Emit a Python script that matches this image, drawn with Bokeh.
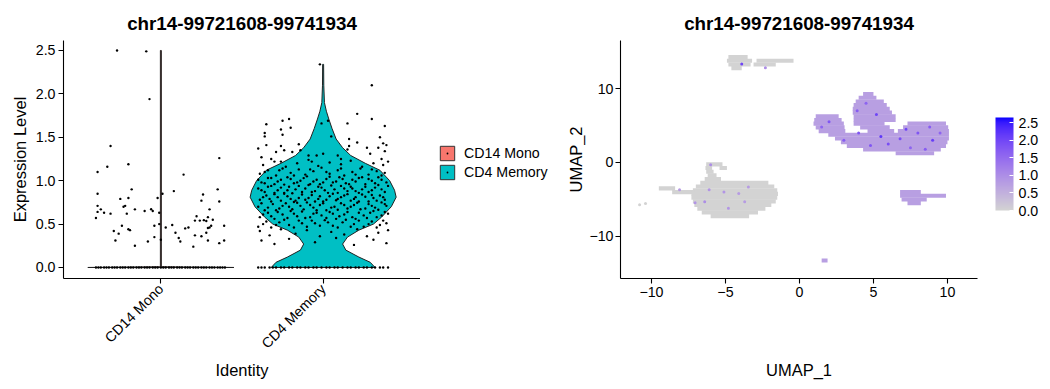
import numpy as np
from bokeh.plotting import figure
from bokeh.layouts import row
from bokeh.models import (Range1d, FixedTicker, Legend, LegendItem, ColorBar,
                          LinearColorMapper, ColumnDataSource, PrintfTickFormatter)
from bokeh.transform import transform
from bokeh.embed import file_html
from bokeh.resources import INLINE

# ---------------- data ----------------
TITLE = "chr14-99721608-99741934"
identities = ["CD14 Mono", "CD4 Memory"]
ident_pos = [1, 2]
ident_colors = ["#F8766D", "#00BFC4"]

# violin outlines: expression level and half-width (category units)
cd14_violin_y = [0.0, 0.008, 2.5]
cd14_violin_half = [0.45, 0.003, 0.003]
cd4_violin_y = [0.0, 0.06, 0.12, 0.2, 0.27, 0.35, 0.43, 0.5, 0.58, 0.7, 0.81, 0.89,
                1.0, 1.12, 1.2, 1.29, 1.38, 1.48, 1.6, 1.71, 1.8, 1.9, 2.1, 2.34]
cd4_violin_half = [0.32, 0.29, 0.22, 0.14, 0.12, 0.15, 0.22, 0.31, 0.36, 0.42, 0.45, 0.44,
                   0.41, 0.35, 0.26, 0.17, 0.12, 0.08, 0.055, 0.035, 0.02, 0.008, 0.004, 0.003]

# jittered cells (x offset from category centre, expression level)
cd14_points = [(-0.27, 2.50), (-0.09, 2.49), (-0.07, 1.94), (-0.31, 1.40), (0.36, 1.26),
    (-0.39, 1.10), (-0.33, 1.16), (-0.20, 1.19), (0.14, 1.07),
    (-0.39, 0.85), (-0.18, 0.90), (-0.25, 0.79), (-0.20, 0.80), (-0.02, 0.80), (0.01, 0.85),
    (0.08, 0.88), (0.26, 0.84), (0.35, 0.90), (0.25, 0.77), (0.36, 0.76),
    (-0.39, 0.71), (-0.37, 0.67), (-0.39, 0.64), (-0.35, 0.63), (-0.31, 0.62), (-0.23, 0.70),
    (-0.22, 0.71), (-0.16, 0.67), (-0.21, 0.62), (-0.10, 0.65), (-0.06, 0.67), (-0.05, 0.65),
    (-0.01, 0.63), (0.30, 0.67),
    (-0.40, 0.57), (0.22, 0.59), (0.21, 0.54), (0.24, 0.54), (0.265, 0.545), (0.28, 0.535),
    (0.29, 0.58), (0.32, 0.55),
    (-0.01, 0.50), (-0.04, 0.48), (0.03, 0.46), (0.07, 0.49), (-0.24, 0.48), (-0.20, 0.44),
    (-0.19, 0.43), (-0.29, 0.42), (-0.26, 0.39), (0.09, 0.40), (0.15, 0.45), (0.17, 0.46),
    (0.30, 0.46), (0.31, 0.48), (0.29, 0.455), (0.39, 0.48), (0.28, 0.40),
    (0.11, 0.34), (0.12, 0.30), (0.21, 0.37), (0.25, 0.36), (0.29, 0.31), (0.36, 0.28),
    (0.39, 0.31), (0.20, 0.24), (-0.04, 0.35), (-0.08, 0.30), (0.00, 0.32), (-0.28, 0.31),
    (-0.16, 0.25)]
cd14_zero_offsets = [-0.40, -0.385, -0.37, -0.35, -0.335, -0.32, -0.30, -0.285, -0.27, -0.25,
    -0.235, -0.22, -0.20, -0.185, -0.17, -0.15, -0.135, -0.12, -0.10, -0.085, -0.07, -0.05,
    -0.035, -0.02, 0.0, 0.015, 0.03, 0.05, 0.065, 0.08, 0.10, 0.115, 0.13, 0.15, 0.165, 0.18,
    0.20, 0.215, 0.23, 0.25, 0.265, 0.28, 0.30, 0.315, 0.33, 0.35, 0.365, 0.38, 0.395]

cd4_points = [(-0.02, 2.34), (0.30, 2.10), (0.21, 1.77), (0.30, 1.71), (-0.25, 1.69),
    (-0.21, 1.71), (-0.35, 1.65), (-0.20, 1.61), (-0.26, 1.59), (-0.01, 1.66), (0.03, 1.69),
    (0.15, 1.66), (0.38, 1.63), (-0.36, 1.55), (-0.36, 1.51), (-0.25, 1.53), (0.05, 1.51),
    (0.16, 1.48), (0.21, 1.44), (0.35, 1.50), (-0.35, 1.41), (-0.40, 1.37), (-0.26, 1.40),
    (-0.15, 1.42), (-0.24, 1.35), (-0.29, 1.33), (-0.38, 1.27), (-0.32, 1.25), (-0.19, 1.33),
    (-0.14, 1.35), (-0.04, 1.29), (0.00, 1.31), (0.09, 1.29), (0.11, 1.25), (0.16, 1.40),
    (0.15, 1.36), (0.27, 1.38), (0.29, 1.31), (0.34, 1.38), (0.37, 1.43), (0.39, 1.41),
    (0.38, 1.34), (0.36, 1.25), (0.40, 1.22), (-0.26, 1.22), (-0.09, 1.29), (-0.07, 1.22),
    (-0.37, 1.18), (-0.30, 1.22), (-0.23, 1.16), (-0.16, 1.20), (-0.09, 1.24), (-0.03, 1.17),
    (0.04, 1.21), (0.11, 1.19), (0.17, 1.23), (0.24, 1.16), (0.31, 1.20), (0.37, 1.18),
    (-0.39, 1.08), (-0.34, 1.12), (-0.29, 1.06), (-0.25, 1.14), (-0.20, 1.09), (-0.15, 1.13),
    (-0.11, 1.07), (-0.06, 1.11), (-0.01, 1.15), (0.04, 1.08), (0.09, 1.12), (0.13, 1.06),
    (0.18, 1.10), (0.23, 1.14), (0.28, 1.07), (0.33, 1.11), (0.38, 1.09),
    (-0.36, 1.10), (-0.27, 1.12), (-0.18, 1.06), (-0.08, 1.13), (0.02, 1.10), (0.11, 1.14),
    (0.20, 1.07), (0.30, 1.13), (0.36, 1.06),
    (-0.38, 0.98), (-0.34, 1.03), (-0.30, 0.96), (-0.26, 1.01), (-0.22, 1.04), (-0.18, 0.97),
    (-0.14, 1.00), (-0.10, 1.05), (-0.06, 0.99), (-0.02, 0.96), (0.02, 1.02), (0.06, 0.98),
    (0.10, 1.04), (0.14, 0.97), (0.18, 1.01), (0.22, 1.03), (0.26, 0.96), (0.30, 1.00),
    (0.34, 1.04), (0.39, 0.98),
    (-0.40, 1.01), (-0.36, 0.97), (-0.32, 1.03), (-0.28, 0.99), (-0.24, 0.955), (-0.20, 1.02),
    (-0.16, 0.98), (-0.12, 1.03), (-0.08, 0.96), (-0.04, 1.01), (0.00, 0.98), (0.04, 1.045),
    (0.08, 0.99), (0.12, 1.02), (0.16, 0.96), (0.20, 0.99), (0.24, 1.04), (0.28, 1.02),
    (0.32, 0.97), (0.36, 1.01),
    (-0.40, 0.91), (-0.36, 0.87), (-0.32, 0.94), (-0.28, 0.89), (-0.24, 0.86), (-0.21, 0.93),
    (-0.17, 0.90), (-0.13, 0.87), (-0.09, 0.95), (-0.05, 0.88), (-0.01, 0.92), (0.03, 0.86),
    (0.07, 0.90), (0.11, 0.94), (0.15, 0.88), (0.18, 0.91), (0.22, 0.86), (0.26, 0.93),
    (0.30, 0.89), (0.34, 0.95), (0.38, 0.87),
    (-0.38, 0.89), (-0.34, 0.93), (-0.30, 0.86), (-0.26, 0.92), (-0.22, 0.89), (-0.19, 0.855),
    (-0.15, 0.94), (-0.11, 0.91), (-0.07, 0.87), (-0.03, 0.93), (0.01, 0.89), (0.05, 0.945),
    (0.09, 0.86), (0.13, 0.91), (0.17, 0.93), (0.20, 0.88), (0.24, 0.90), (0.28, 0.87),
    (0.32, 0.92), (0.36, 0.90), (0.40, 0.94),
    (-0.39, 0.78), (-0.35, 0.83), (-0.32, 0.76), (-0.28, 0.81), (-0.24, 0.85), (-0.20, 0.79),
    (-0.17, 0.77), (-0.13, 0.84), (-0.09, 0.80), (-0.05, 0.76), (-0.02, 0.82), (0.02, 0.78),
    (0.06, 0.85), (0.09, 0.79), (0.13, 0.83), (0.17, 0.77), (0.20, 0.81), (0.24, 0.84),
    (0.28, 0.76), (0.31, 0.80), (0.35, 0.83), (0.38, 0.78),
    (-0.37, 0.81), (-0.33, 0.79), (-0.30, 0.845), (-0.26, 0.77), (-0.22, 0.82), (-0.18, 0.755),
    (-0.15, 0.80), (-0.11, 0.78), (-0.07, 0.835), (-0.03, 0.79), (0.00, 0.76), (0.04, 0.82),
    (0.08, 0.775), (0.11, 0.81), (0.15, 0.845), (0.19, 0.79), (0.22, 0.76), (0.26, 0.815),
    (0.30, 0.835), (0.33, 0.77), (0.37, 0.81),
    (-0.40, 0.70), (-0.36, 0.66), (-0.31, 0.73), (-0.27, 0.68), (-0.23, 0.74), (-0.19, 0.67),
    (-0.14, 0.71), (-0.10, 0.75), (-0.06, 0.69), (-0.02, 0.72), (0.02, 0.66), (0.07, 0.70),
    (0.11, 0.74), (0.15, 0.68), (0.19, 0.72), (0.23, 0.67), (0.28, 0.73), (0.32, 0.69),
    (0.36, 0.75), (0.39, 0.71),
    (-0.38, 0.74), (-0.34, 0.69), (-0.29, 0.66), (-0.25, 0.71), (-0.21, 0.70), (-0.16, 0.745),
    (-0.12, 0.67), (-0.08, 0.72), (-0.04, 0.66), (0.00, 0.74), (0.05, 0.69), (0.09, 0.665),
    (0.13, 0.72), (0.17, 0.70), (0.21, 0.745), (0.26, 0.68), (0.30, 0.71), (0.34, 0.665),
    (0.38, 0.73),
    (-0.39, 0.58), (-0.34, 0.63), (-0.30, 0.56), (-0.25, 0.61), (-0.20, 0.65), (-0.16, 0.59),
    (-0.11, 0.57), (-0.06, 0.62), (-0.01, 0.60), (0.04, 0.64), (0.08, 0.56), (0.13, 0.61),
    (0.18, 0.58), (0.22, 0.63), (0.27, 0.57), (0.31, 0.65), (0.36, 0.60), (0.40, 0.62),
    (-0.37, 0.61), (-0.32, 0.59), (-0.28, 0.64), (-0.22, 0.57), (-0.18, 0.62), (-0.13, 0.645),
    (-0.08, 0.58), (-0.04, 0.63), (0.02, 0.57), (0.06, 0.62), (0.10, 0.59), (0.15, 0.64),
    (0.20, 0.56), (0.25, 0.60), (0.29, 0.63), (0.33, 0.58), (0.38, 0.64),
    (-0.40, 0.47), (-0.35, 0.53), (-0.29, 0.49), (-0.24, 0.55), (-0.18, 0.46), (-0.13, 0.51),
    (-0.07, 0.54), (-0.02, 0.48), (0.03, 0.52), (0.09, 0.46), (0.14, 0.55), (0.19, 0.50),
    (0.25, 0.47), (0.30, 0.53), (0.35, 0.49), (0.39, 0.51),
    (-0.37, 0.50), (-0.32, 0.46), (-0.27, 0.52), (-0.21, 0.49), (-0.15, 0.54), (-0.10, 0.47),
    (-0.05, 0.51), (0.01, 0.545), (0.06, 0.48), (0.12, 0.52), (0.17, 0.47), (0.22, 0.54),
    (0.28, 0.50), (0.33, 0.46), (0.37, 0.54),
    (-0.39, 0.42), (-0.33, 0.37), (-0.26, 0.44), (-0.17, 0.39), (-0.10, 0.43), (-0.02, 0.36),
    (0.05, 0.41), (0.13, 0.38), (0.21, 0.44), (0.27, 0.36), (0.34, 0.40), (0.40, 0.43),
    (-0.38, 0.31), (-0.30, 0.27), (-0.21, 0.33), (-0.05, 0.29), (0.08, 0.34), (0.19, 0.26),
    (0.31, 0.32), (0.39, 0.28)]
cd4_zero_offsets = [-0.40, -0.38, -0.36, -0.33, -0.31, -0.29, -0.26, -0.24, -0.21, -0.19,
    -0.16, -0.14, -0.11, -0.09, -0.06, -0.04, -0.01, 0.02, 0.04, 0.07, 0.09, 0.12, 0.15, 0.17,
    0.20, 0.22, 0.25, 0.27, 0.30, 0.32, 0.35, 0.37, 0.40]

# UMAP: cluster cells read as row spans (UMAP_2 level, UMAP_1 from, UMAP_1 to)
umap_gray_rows = [(-0.25, -6.3, -5.2), (-0.75, -6.35, -5.9), (-0.75, -5.4, -4.9),
    (-1.25, -6.3, -5.8), (-1.75, -6.2, -5.6), (-2.25, -6.4, -5.3), (-2.75, -6.7, -2.1),
    (-3.25, -7.0, -1.7), (-3.5, -9.5, -8.4), (-3.75, -7.2, -1.5), (-4.0, -8.6, -7.1),
    (-4.25, -7.3, -1.45), (-4.75, -7.3, -1.5), (-5.25, -7.2, -1.6), (-5.75, -7.1, -1.9),
    (-6.25, -6.9, -2.3), (-6.75, -6.6, -2.8), (-7.25, -6.0, -3.4),
    (14.25, -4.8, -3.5), (13.75, -4.9, -3.2), (13.75, -2.9, -0.4), (13.25, -4.8, -3.3),
    (13.25, -3.1, -1.6), (12.75, -4.6, -3.9)]
umap_purple_rows = [(9.25, 4.3, 5.0), (8.75, 4.0, 5.2), (8.25, 3.8, 5.7), (7.75, 3.66, 5.9),
    (7.25, 3.6, 6.1), (6.75, 3.6, 6.25), (6.25, 1.1, 2.65), (6.25, 3.66, 6.5),
    (5.75, 1.0, 2.85), (5.75, 3.66, 6.5), (5.25, 0.95, 3.0), (5.25, 3.66, 5.75),
    (5.25, 7.3, 9.9), (4.75, 1.1, 3.05), (4.75, 4.1, 6.1), (4.75, 7.0, 10.05),
    (4.25, 1.3, 3.1), (4.25, 4.6, 6.4), (4.25, 6.65, 10.1), (3.75, 1.95, 10.1),
    (3.25, 2.4, 10.1), (2.75, 2.8, 10.0), (2.25, 3.2, 9.9), (1.75, 4.3, 9.55), (1.25, 6.5, 9.1),
    (-4.0, 6.8, 8.2), (-4.5, 6.8, 9.9), (-5.0, 6.9, 8.6), (-5.5, 7.3, 8.2), (-13.25, 1.5, 1.9)]
umap_purple_level = 0.75
umap_cells = [(-10.8, -5.7, 0.0), (-10.4, -5.55, 0.0),
    (-6.0, -0.3, 1.0), (-6.1, -3.7, 0.9), (-7.05, -5.45, 0.9), (-6.4, -5.3, 1.0),
    (-4.1, -4.2, 0.8), (-5.1, -4.0, 0.9), (-3.45, -3.3, 0.8), (-4.8, -6.2, 0.9),
    (-3.7, -5.3, 0.8), (-8.1, -3.7, 0.8), (-3.9, 13.3, 2.0), (-2.3, 12.8, 1.0),
    (2.0, 5.5, 1.8), (4.5, 8.0, 1.6), (5.2, 6.5, 2.0), (3.0, 3.0, 1.7), (6.0, 2.5, 1.9),
    (8.0, 4.0, 1.8), (9.0, 3.0, 2.1), (7.5, 2.0, 1.6), (4.0, 4.0, 1.8), (5.5, 3.5, 2.2),
    (8.8, 4.8, 1.7), (1.5, 4.8, 1.6), (6.8, 3.2, 1.9), (9.5, 4.0, 1.6), (4.8, 2.3, 1.8),
    (3.9, 7.0, 1.7), (7.2, 4.5, 2.0), (8.5, 1.8, 1.7)]
expr_max = 2.65

# ---------------- style helpers ----------------
FONT = "Liberation Sans"

def _lin(c):
    c = c / 255.0
    return c / 12.92 if c <= 0.04045 else ((c + 0.055) / 1.055) ** 2.4

def _to_lab(rgb):
    r, g, b = [_lin(v) for v in rgb]
    X = (0.4124 * r + 0.3576 * g + 0.1805 * b) / 0.95047
    Y = (0.2126 * r + 0.7152 * g + 0.0722 * b)
    Z = (0.0193 * r + 0.1192 * g + 0.9505 * b) / 1.08883
    f = lambda t: t ** (1 / 3) if t > 0.008856 else 7.787 * t + 16 / 116
    fx, fy, fz = f(X), f(Y), f(Z)
    return 116 * fy - 16, 500 * (fx - fy), 200 * (fy - fz)

def _from_lab(L, a, b):
    fy = (L + 16) / 116
    fx = fy + a / 500
    fz = fy - b / 200
    fi = lambda t: t ** 3 if t ** 3 > 0.008856 else (t - 16 / 116) / 7.787
    X, Y, Z = fi(fx) * 0.95047, fi(fy), fi(fz) * 1.08883
    r = 3.2406 * X - 1.5372 * Y - 0.4986 * Z
    g = -0.9689 * X + 1.8758 * Y + 0.0415 * Z
    bb = 0.0557 * X - 0.2040 * Y + 1.0570 * Z
    def enc(c):
        c = min(1.0, max(0.0, c))
        v = 12.92 * c if c <= 0.0031308 else 1.055 * c ** (1 / 2.4) - 0.055
        return int(round(v * 255))
    return "#%02x%02x%02x" % (enc(r), enc(g), enc(bb))

lo, hi = _to_lab((211, 211, 211)), _to_lab((0, 0, 255))
palette = [_from_lab(*[lo[k] + (hi[k] - lo[k]) * i / 255 for k in range(3)]) for i in range(256)]

def style_axes(p):
    for ax in (p.xaxis[0], p.yaxis[0]):
        ax.axis_line_color = "black"
        ax.axis_line_width = 1.1
        ax.major_tick_line_color = "black"
        ax.major_tick_line_width = 1.1
        ax.major_tick_out = 5
        ax.major_tick_in = 0
        ax.minor_tick_line_color = None
        ax.major_label_text_font = FONT
        ax.major_label_text_font_size = "14.2px"
        ax.major_label_text_color = "black"
        ax.major_label_standoff = 3
        ax.axis_label_text_font = FONT
        ax.axis_label_text_font_size = "16.5px"
        ax.axis_label_text_font_style = "normal"
        ax.axis_label_text_color = "black"
    p.grid.visible = False
    p.outline_line_color = None
    p.title.text_font = FONT
    p.title.text_font_size = "18.8px"
    p.title.text_font_style = "bold"
    p.title.text_color = "black"
    p.title.align = "center"
    p.title.standoff = 14

# ---------------- violin plot ----------------
p1 = figure(width=420, height=389, output_backend="svg", toolbar_location=None,
            x_range=Range1d(0.4, 2.6), y_range=Range1d(-0.127, 2.615), title=TITLE,
            min_border_left=63, min_border_right=0, min_border_top=40, min_border_bottom=111)
style_axes(p1)
p1.xaxis[0].ticker = FixedTicker(ticks=ident_pos)
p1.xaxis[0].major_label_overrides = {pos: name for pos, name in zip(ident_pos, identities)}
p1.xaxis[0].major_label_orientation = np.pi / 4
p1.xaxis[0].axis_label = "Identity"
p1.xaxis[0].axis_label_standoff = 1
p1.yaxis[0].ticker = FixedTicker(ticks=[0, 0.5, 1.0, 1.5, 2.0, 2.5])
p1.yaxis[0].formatter = PrintfTickFormatter(format="%.1f")
p1.yaxis[0].axis_label = "Expression Level"
p1.yaxis[0].axis_label_standoff = 4

for pos, col, vy, vh in [(ident_pos[0], ident_colors[0], cd14_violin_y, cd14_violin_half),
                         (ident_pos[1], ident_colors[1], cd4_violin_y, cd4_violin_half)]:
    xs = [pos - h for h in vh] + [pos + h for h in reversed(vh)]
    ys = list(vy) + list(reversed(vy))
    p1.patch(xs, ys, fill_color=col, line_color="#222222", line_width=1)

for pos, pts, zeros in [(ident_pos[0], cd14_points, cd14_zero_offsets),
                        (ident_pos[1], cd4_points, cd4_zero_offsets)]:
    px = [pos + o for o, _ in pts] + [pos + o for o in zeros]
    py = [y for _, y in pts] + [0.0] * len(zeros)
    p1.scatter(px, py, size=2.4, fill_color="black", line_color=None)

# ---------------- legend panel ----------------
pl = figure(width=144, height=389, output_backend="svg", toolbar_location=None,
            x_range=Range1d(0, 1), y_range=Range1d(0, 1), x_axis_type=None, y_axis_type=None,
            min_border=0, min_border_left=0, min_border_right=0, min_border_top=0,
            min_border_bottom=0)
pl.grid.visible = False
pl.outline_line_color = None
key_items = []
for name, col in zip(identities, ident_colors):
    box = pl.quad(left=[np.nan], right=[np.nan], bottom=[np.nan], top=[np.nan],
                  fill_color=col, line_color="#333333", line_width=1)
    dot = pl.scatter(x=[np.nan], y=[np.nan], marker="dot", size=6,
                     line_color="black", fill_color="black")
    key_items.append(LegendItem(label=name, renderers=[box, dot]))
legend = Legend(items=key_items, location=(18, 97), orientation="vertical", padding=0,
                margin=0, spacing=1, glyph_width=18, glyph_height=18, label_height=18,
                label_standoff=8, label_text_font=FONT, label_text_font_size="14.2px",
                label_text_color="black", border_line_color=None, background_fill_alpha=0)
pl.add_layout(legend)

# ---------------- UMAP feature plot ----------------
mapper = LinearColorMapper(palette=palette, low=0, high=expr_max)
p2 = figure(width=486, height=389, output_backend="svg", toolbar_location=None,
            x_range=Range1d(-12.09, 12.03), y_range=Range1d(-15.68, 16.49), title=TITLE,
            min_border_left=56, min_border_right=73, min_border_top=40, min_border_bottom=111)
style_axes(p2)
p2.xaxis[0].ticker = FixedTicker(ticks=[-10, -5, 0, 5, 10])
p2.xaxis[0].axis_label = "UMAP_1"
p2.xaxis[0].axis_label_standoff = 61
p2.yaxis[0].ticker = FixedTicker(ticks=[-10, 0, 10])
p2.yaxis[0].major_label_standoff = 2
p2.yaxis[0].axis_label = "UMAP_2"
p2.yaxis[0].axis_label_standoff = 1

gray_src = ColumnDataSource(dict(y=[r[0] for r in umap_gray_rows],
                                 left=[r[1] for r in umap_gray_rows],
                                 right=[r[2] for r in umap_gray_rows],
                                 expr=[0.0] * len(umap_gray_rows)))
purple_src = ColumnDataSource(dict(y=[r[0] for r in umap_purple_rows],
                                   left=[r[1] for r in umap_purple_rows],
                                   right=[r[2] for r in umap_purple_rows],
                                   expr=[umap_purple_level] * len(umap_purple_rows)))
for src in (gray_src, purple_src):
    p2.hbar(y="y", left="left", right="right", height=0.56, source=src,
            fill_color=transform("expr", mapper), line_color=None)
cell_src = ColumnDataSource(dict(x=[c[0] for c in umap_cells], y=[c[1] for c in umap_cells],
                                 expr=[c[2] for c in umap_cells]))
p2.scatter("x", "y", source=cell_src, size=3, fill_color=transform("expr", mapper),
           line_color=None)

cb = ColorBar(color_mapper=mapper, ticker=FixedTicker(ticks=[0, 0.5, 1.0, 1.5, 2.0, 2.5]),
              formatter=PrintfTickFormatter(format="%.1f"), width=18, height=93,
              location=(375, 68), padding=0, margin=0, label_standoff=5,
              major_label_text_font=FONT, major_label_text_font_size="14.2px",
              major_label_text_color="black", major_tick_line_color="white",
              major_tick_in=4, major_tick_out=0, minor_tick_line_color=None,
              bar_line_color=None, border_line_color=None, background_fill_alpha=0)
p2.add_layout(cb)

layout = row(p1, pl, p2)
open("out.html", "w").write(file_html(layout, INLINE))
